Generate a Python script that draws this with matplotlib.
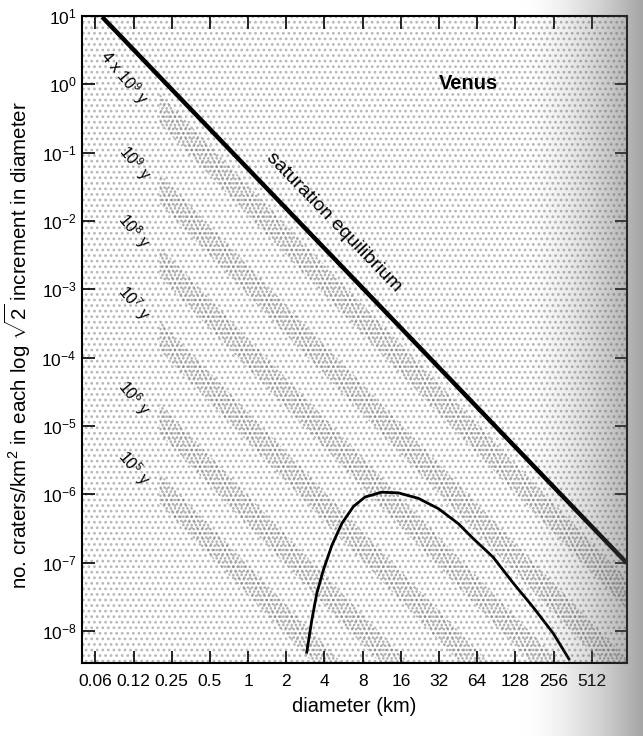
import matplotlib
matplotlib.use("Agg")
import matplotlib.pyplot as plt
import numpy as np

plt.rcParams["font.family"] = ["Liberation Sans", "DejaVu Sans"]
plt.rcParams["mathtext.fontset"] = "custom"
plt.rcParams["mathtext.rm"] = "Liberation Sans"
plt.rcParams["mathtext.it"] = "Liberation Sans:italic"
plt.rcParams["mathtext.bf"] = "Liberation Sans:bold"
plt.rcParams["hatch.linewidth"] = 1.2

# valores
x_ticks = [2.0 ** k for k in range(-4, 10)]
x_labels = ["0.06", "0.12", "0.25", "0.5", "1", "2", "4", "8", "16", "32", "64", "128", "256", "512"]
y_ticks = [10.0 ** k for k in range(1, -9, -1)]

# linha de saturacao (extremos)
sat_d = [0.0707, 969]
sat_n = [9.7, 9.8e-8]

# isocronas: inicio em D=0.2 km e fim em D=1000 km (log10 N)
iso_labels = [r"4 x 10$^9$ y", r"10$^9$ y", r"10$^8$ y", r"10$^7$ y", r"10$^6$ y", r"10$^5$ y"]
iso_d = [0.2, 1000]
iso_log_start = [-0.35, -1.52, -2.59, -3.67, -4.89, -5.91]
iso_log_end = [-7.49, -8.66, -9.73, -10.81, -12.03, -13.05]
iso_label_pos = [(0.105, 1.24), (0.127, 0.0705), (0.125, 7.1e-3), (0.125, 6.3e-4),
                 (0.125, 2.55e-5), (0.125, 2.4e-6)]

# curva de producao (corcunda)
hump_d = [2.90, 3.18, 3.48, 3.92, 4.57, 5.47, 6.76, 8.36, 11.3, 15.3, 22.0, 31.6,
          45.4, 59.6, 85.3, 123, 176, 253, 338]
hump_log = [-8.31, -7.84, -7.45, -7.11, -6.75, -6.43, -6.18, -6.04, -5.97, -5.98,
            -6.06, -6.21, -6.43, -6.65, -6.92, -7.30, -7.65, -8.03, -8.41]
hump_n = [10 ** v for v in hump_log]

fig = plt.figure(figsize=(6.43, 7.36), dpi=100)
ax = fig.add_axes([0.1275, 0.0992, 0.8475, 0.8790])
ax.set_xscale("log", base=2)
ax.set_yscale("log")
ax.set_xlim(2 ** -4.35, 2 ** 9.92)
ax.set_ylim(10 ** -8.47, 10 ** 1.0)

# fundo pontilhado
ax.add_patch(plt.Rectangle((0, 0), 1, 1, transform=ax.transAxes, facecolor="white",
                           edgecolor="#b8b8b8", hatch="...", linewidth=0, zorder=0))

# faixas das isocronas
for a, b in zip(iso_log_start, iso_log_end):
    lo = [10 ** (a - 0.22), 10 ** (b - 0.22)]
    hi = [10 ** (a + 0.22), 10 ** (b + 0.22)]
    ax.fill_between(iso_d, lo, hi, facecolor="none", edgecolor="#5a5a5a",
                    hatch="....", linewidth=0, zorder=1, alpha=0.5)

for lab, (xd, yn) in zip(iso_labels, iso_label_pos):
    ax.text(xd, yn, lab, rotation=-50, fontsize=11.5, ha="center", va="center", zorder=4)

ax.plot(sat_d, sat_n, color="black", lw=3.2, zorder=3, solid_capstyle="butt")
ax.text(4.76, 0.0095, "saturation equilibrium", rotation=-46, fontsize=14,
        ha="center", va="center", zorder=4)
ax.plot(hump_d, hump_n, color="black", lw=2.0, zorder=3)
ax.text(0.71, 0.895, "Venus", transform=ax.transAxes, fontsize=14.5, fontweight="bold",
        ha="center", va="center")

ax.set_xticks(x_ticks)
ax.set_xticklabels(x_labels)
ax.set_yticks(y_ticks)
ax.minorticks_off()
ax.tick_params(which="major", direction="in", length=9, width=1.2, top=True, right=True)
ax.tick_params(axis="x", labelsize=12.5, pad=8)
ax.tick_params(axis="y", labelsize=12.5, pad=4)
for s in ax.spines.values():
    s.set_linewidth(1.5)

ax.set_xlabel("diameter (km)", fontsize=14.5, labelpad=6)
ax.set_ylabel(r"no. craters/km$^2$ in each log $\sqrt{2}$ increment in diameter", fontsize=14.8)
ax.yaxis.set_label_coords(-0.09, 0.4915)

# escurecimento do scan na borda direita
grad = fig.add_axes([520 / 643, 0, 123 / 643, 1], zorder=10)
ramp = np.linspace(0, 1, 200) ** 1.6
img = np.zeros((1, 200, 4))
img[..., :3] = 0.35
img[..., 3] = ramp * 0.55
grad.imshow(img, aspect="auto", extent=[0, 1, 0, 1])
grad.axis("off")

plt.savefig("out.png", dpi=100)
